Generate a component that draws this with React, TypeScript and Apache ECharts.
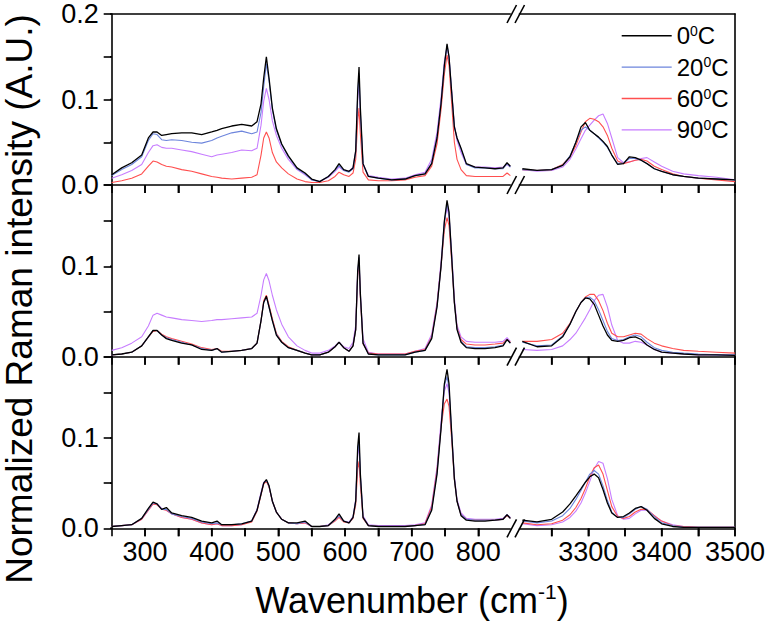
import React, { useEffect, useRef } from "react";
import * as echarts from "echarts";

// ---------- shared wavenumber grids ----------
const leftWavenumbers = [
  250, 265, 280, 295, 305, 312, 318, 325, 332, 340,
  355, 370, 385, 400, 408, 415, 430, 445, 460, 468,
  474, 478, 482, 486, 491, 497, 505, 515, 528, 540,
  550, 562, 575, 585, 591, 598, 606, 612, 616, 619,
  621, 623, 627, 635, 650, 670, 690, 705, 720, 730,
  738, 744, 749, 753, 756, 760, 764, 768, 774, 782,
  795, 810, 825, 837, 843, 848,
];
const rightWavenumbers = [
  3210, 3230, 3250, 3265, 3275, 3283, 3290, 3296, 3302, 3308,
  3314, 3320, 3326, 3332, 3340, 3348, 3356, 3364, 3372, 3380,
  3390, 3400, 3415, 3430, 3450, 3475, 3500,
];

// ---------- temperatures / legend ----------
const temperatures = ["0", "20", "60", "90"];
const lineColors = ["#000000", "#6d85dc", "#ff4f4f", "#c77dff"];

// ---------- axis values ----------
const leftTickValues = [300, 350, 400, 450, 500, 550, 600, 650, 700, 750, 800];
const rightTickValues = [3250, 3300, 3350, 3400, 3450, 3500];
const leftLabelValues = [300, 400, 500, 600, 700, 800];
const rightLabelValues = [3300, 3400, 3500];
const yTickValuesTop = [0, 0.05, 0.1, 0.15, 0.2];
const yTickValuesLower = [0, 0.05, 0.1, 0.15];
const yLabelValues = [0, 0.1, 0.2];
const yMaxByPanel = [0.2, 0.19, 0.19];

// ---------- TOP panel, low-wavenumber part ----------
const topLeft0 = [
  0.012, 0.020, 0.026, 0.035, 0.055, 0.062, 0.062, 0.058, 0.059, 0.060,
  0.061, 0.061, 0.059, 0.062, 0.064, 0.066, 0.069, 0.071, 0.069, 0.074,
  0.095, 0.125, 0.150, 0.125, 0.090, 0.066, 0.048, 0.034, 0.020, 0.014,
  0.007, 0.004, 0.010, 0.018, 0.025, 0.018, 0.016, 0.020, 0.040, 0.110,
  0.138, 0.090, 0.025, 0.010, 0.008, 0.006, 0.007, 0.011, 0.013, 0.025,
  0.055, 0.095, 0.140, 0.165, 0.150, 0.108, 0.068, 0.055, 0.043, 0.025,
  0.021, 0.020, 0.019, 0.020, 0.026, 0.022,
];
const topLeft20 = [
  0.011, 0.018, 0.024, 0.033, 0.052, 0.060, 0.059, 0.053, 0.052, 0.053,
  0.052, 0.050, 0.049, 0.052, 0.055, 0.057, 0.061, 0.063, 0.060, 0.062,
  0.085, 0.115, 0.142, 0.122, 0.088, 0.064, 0.047, 0.033, 0.019, 0.013,
  0.006, 0.004, 0.010, 0.017, 0.023, 0.017, 0.015, 0.019, 0.038, 0.105,
  0.130, 0.085, 0.024, 0.010, 0.008, 0.006, 0.007, 0.011, 0.013, 0.026,
  0.056, 0.096, 0.140, 0.163, 0.150, 0.108, 0.068, 0.055, 0.042, 0.024,
  0.020, 0.020, 0.019, 0.019, 0.025, 0.021,
];
const topLeft60 = [
  0.003, 0.005, 0.008, 0.013, 0.022, 0.028, 0.027, 0.024, 0.022, 0.021,
  0.018, 0.016, 0.013, 0.010, 0.009, 0.008, 0.007, 0.008, 0.009, 0.012,
  0.035, 0.055, 0.062, 0.055, 0.038, 0.027, 0.020, 0.013, 0.007, 0.004,
  0.003, 0.003, 0.005, 0.010, 0.015, 0.012, 0.010, 0.014, 0.030, 0.075,
  0.090, 0.060, 0.015, 0.006, 0.005, 0.005, 0.006, 0.009, 0.011, 0.022,
  0.048, 0.088, 0.130, 0.152, 0.140, 0.095, 0.050, 0.030, 0.018, 0.011,
  0.010, 0.010, 0.010, 0.010, 0.014, 0.011,
];
const topLeft90 = [
  0.008, 0.012, 0.017, 0.024, 0.038, 0.046, 0.047, 0.044, 0.043, 0.043,
  0.041, 0.039, 0.036, 0.033, 0.035, 0.036, 0.038, 0.041, 0.040, 0.043,
  0.070, 0.098, 0.113, 0.100, 0.075, 0.058, 0.043, 0.030, 0.018, 0.012,
  0.006, 0.004, 0.009, 0.016, 0.021, 0.017, 0.016, 0.021, 0.040, 0.100,
  0.120, 0.080, 0.025, 0.011, 0.009, 0.007, 0.008, 0.012, 0.015, 0.030,
  0.062, 0.102, 0.145, 0.162, 0.148, 0.110, 0.070, 0.052, 0.038, 0.024,
  0.021, 0.021, 0.020, 0.021, 0.024, 0.021,
];

// ---------- MIDDLE panel, low-wavenumber part ----------
const midLeft0 = [
  0.002, 0.003, 0.005, 0.012, 0.022, 0.029, 0.029, 0.024, 0.020, 0.018,
  0.015, 0.013, 0.008, 0.007, 0.009, 0.005, 0.006, 0.007, 0.009, 0.015,
  0.040, 0.060, 0.067, 0.055, 0.040, 0.024, 0.016, 0.010, 0.007, 0.004,
  0.002, 0.002, 0.005, 0.011, 0.016, 0.010, 0.006, 0.012, 0.030, 0.095,
  0.113, 0.070, 0.015, 0.003, 0.002, 0.002, 0.002, 0.005, 0.007, 0.020,
  0.055, 0.100, 0.150, 0.173, 0.160, 0.110, 0.060, 0.030, 0.016, 0.010,
  0.009, 0.009, 0.010, 0.012, 0.019, 0.015,
];
const midLeft20 = [
  0.002, 0.003, 0.005, 0.012, 0.022, 0.029, 0.029, 0.024, 0.021, 0.019,
  0.016, 0.013, 0.009, 0.007, 0.009, 0.005, 0.006, 0.007, 0.009, 0.015,
  0.040, 0.060, 0.066, 0.055, 0.040, 0.025, 0.016, 0.010, 0.007, 0.004,
  0.002, 0.002, 0.005, 0.011, 0.016, 0.010, 0.006, 0.012, 0.030, 0.092,
  0.110, 0.068, 0.015, 0.003, 0.002, 0.002, 0.002, 0.005, 0.007, 0.021,
  0.056, 0.100, 0.148, 0.170, 0.158, 0.110, 0.060, 0.031, 0.017, 0.011,
  0.010, 0.010, 0.011, 0.013, 0.019, 0.015,
];
const midLeft60 = [
  0.002, 0.003, 0.005, 0.012, 0.022, 0.028, 0.029, 0.025, 0.022, 0.020,
  0.017, 0.014, 0.010, 0.008, 0.009, 0.006, 0.006, 0.007, 0.009, 0.015,
  0.040, 0.062, 0.068, 0.057, 0.042, 0.026, 0.017, 0.011, 0.007, 0.004,
  0.002, 0.002, 0.005, 0.011, 0.016, 0.010, 0.006, 0.012, 0.030, 0.090,
  0.105, 0.065, 0.014, 0.004, 0.003, 0.003, 0.003, 0.006, 0.008, 0.022,
  0.058, 0.100, 0.140, 0.154, 0.145, 0.105, 0.060, 0.032, 0.019, 0.014,
  0.013, 0.013, 0.014, 0.015, 0.019, 0.016,
];
const midLeft90 = [
  0.007, 0.010, 0.015, 0.022, 0.034, 0.046, 0.048, 0.046, 0.044, 0.043,
  0.041, 0.040, 0.039, 0.040, 0.041, 0.041, 0.042, 0.043, 0.044, 0.048,
  0.068, 0.085, 0.092, 0.084, 0.068, 0.052, 0.036, 0.022, 0.012, 0.007,
  0.004, 0.004, 0.007, 0.012, 0.016, 0.011, 0.009, 0.016, 0.035, 0.095,
  0.105, 0.070, 0.020, 0.005, 0.003, 0.003, 0.003, 0.006, 0.009, 0.025,
  0.060, 0.105, 0.150, 0.165, 0.155, 0.115, 0.065, 0.035, 0.022, 0.017,
  0.016, 0.016, 0.016, 0.017, 0.021, 0.017,
];

// ---------- BOTTOM panel, low-wavenumber part ----------
const botLeft0 = [
  0.002, 0.003, 0.004, 0.011, 0.022, 0.029, 0.027, 0.021, 0.023, 0.017,
  0.014, 0.012, 0.008, 0.006, 0.008, 0.004, 0.004, 0.005, 0.008, 0.020,
  0.038, 0.050, 0.054, 0.047, 0.030, 0.018, 0.010, 0.006, 0.006, 0.008,
  0.002, 0.002, 0.003, 0.010, 0.016, 0.008, 0.006, 0.012, 0.030, 0.090,
  0.106, 0.060, 0.012, 0.003, 0.002, 0.002, 0.002, 0.003, 0.004, 0.020,
  0.060, 0.110, 0.160, 0.176, 0.160, 0.105, 0.055, 0.030, 0.014, 0.009,
  0.008, 0.008, 0.009, 0.010, 0.015, 0.011,
];
const botLeft20 = [
  0.002, 0.003, 0.004, 0.011, 0.021, 0.028, 0.027, 0.021, 0.021, 0.016,
  0.013, 0.011, 0.007, 0.005, 0.006, 0.004, 0.004, 0.005, 0.008, 0.020,
  0.038, 0.050, 0.053, 0.047, 0.030, 0.018, 0.010, 0.006, 0.005, 0.007,
  0.002, 0.002, 0.003, 0.009, 0.014, 0.008, 0.006, 0.012, 0.030, 0.085,
  0.097, 0.058, 0.012, 0.003, 0.002, 0.002, 0.002, 0.003, 0.004, 0.021,
  0.062, 0.112, 0.158, 0.168, 0.155, 0.104, 0.055, 0.030, 0.015, 0.010,
  0.009, 0.009, 0.009, 0.010, 0.015, 0.011,
];
const botLeft60 = [
  0.002, 0.003, 0.004, 0.010, 0.020, 0.027, 0.026, 0.021, 0.020, 0.016,
  0.012, 0.010, 0.006, 0.004, 0.005, 0.003, 0.003, 0.004, 0.007, 0.019,
  0.037, 0.049, 0.052, 0.046, 0.030, 0.018, 0.010, 0.006, 0.005, 0.006,
  0.002, 0.002, 0.003, 0.008, 0.012, 0.007, 0.006, 0.011, 0.026, 0.066,
  0.074, 0.048, 0.011, 0.003, 0.002, 0.002, 0.002, 0.003, 0.005, 0.024,
  0.065, 0.112, 0.138, 0.143, 0.135, 0.098, 0.054, 0.030, 0.015, 0.010,
  0.009, 0.009, 0.009, 0.010, 0.014, 0.011,
];
const botLeft90 = [
  0.002, 0.003, 0.004, 0.010, 0.020, 0.027, 0.027, 0.022, 0.020, 0.016,
  0.012, 0.010, 0.006, 0.004, 0.005, 0.003, 0.003, 0.004, 0.008, 0.021,
  0.040, 0.051, 0.053, 0.046, 0.030, 0.018, 0.010, 0.006, 0.005, 0.006,
  0.002, 0.002, 0.004, 0.009, 0.013, 0.008, 0.007, 0.013, 0.032, 0.082,
  0.090, 0.058, 0.014, 0.004, 0.003, 0.003, 0.003, 0.004, 0.006, 0.026,
  0.068, 0.118, 0.152, 0.160, 0.150, 0.105, 0.058, 0.032, 0.017, 0.011,
  0.010, 0.010, 0.010, 0.011, 0.015, 0.012,
];

// ---------- high-wavenumber (O-H) part ----------
const topRight0 = [
  0.019, 0.017, 0.018, 0.023, 0.033, 0.050, 0.068, 0.073, 0.064, 0.060,
  0.056, 0.051, 0.045, 0.035, 0.024, 0.025, 0.033, 0.032, 0.029, 0.025,
  0.019, 0.016, 0.012, 0.010, 0.008, 0.007, 0.006,
];
const topRight20 = [
  0.018, 0.017, 0.018, 0.023, 0.034, 0.050, 0.064, 0.068, 0.064, 0.060,
  0.055, 0.050, 0.044, 0.035, 0.025, 0.026, 0.031, 0.031, 0.029, 0.025,
  0.019, 0.016, 0.012, 0.010, 0.008, 0.007, 0.006,
];
const topRight60 = [
  0.018, 0.017, 0.018, 0.024, 0.033, 0.046, 0.062, 0.074, 0.078, 0.077,
  0.074, 0.068, 0.058, 0.043, 0.028, 0.025, 0.027, 0.029, 0.030, 0.028,
  0.022, 0.018, 0.013, 0.010, 0.008, 0.006, 0.004,
];
const topRight90 = [
  0.018, 0.016, 0.017, 0.021, 0.030, 0.042, 0.054, 0.064, 0.070, 0.076,
  0.081, 0.083, 0.072, 0.055, 0.032, 0.026, 0.027, 0.029, 0.031, 0.032,
  0.027, 0.022, 0.016, 0.013, 0.011, 0.009, 0.006,
];
const midRight0 = [
  0.017, 0.011, 0.012, 0.022, 0.036, 0.050, 0.060, 0.065, 0.064, 0.058,
  0.046, 0.034, 0.024, 0.018, 0.017, 0.018, 0.021, 0.022, 0.019, 0.013,
  0.008, 0.005, 0.004, 0.003, 0.002, 0.002, 0.0015,
];
const midRight20 = [
  0.016, 0.012, 0.013, 0.023, 0.036, 0.050, 0.060, 0.065, 0.066, 0.062,
  0.052, 0.040, 0.028, 0.020, 0.018, 0.019, 0.022, 0.024, 0.022, 0.016,
  0.010, 0.007, 0.005, 0.004, 0.003, 0.002, 0.002,
];
const midRight60 = [
  0.017, 0.017, 0.019, 0.026, 0.037, 0.050, 0.060, 0.066, 0.069, 0.069,
  0.062, 0.051, 0.037, 0.026, 0.022, 0.022, 0.024, 0.026, 0.025, 0.020,
  0.015, 0.012, 0.009, 0.007, 0.006, 0.005, 0.004,
];
const midRight90 = [
  0.008, 0.007, 0.008, 0.012, 0.019, 0.026, 0.035, 0.043, 0.052, 0.062,
  0.068, 0.069, 0.055, 0.035, 0.018, 0.015, 0.015, 0.017, 0.016, 0.013,
  0.008, 0.005, 0.004, 0.003, 0.002, 0.002, 0.0015,
];
const botRight0 = [
  0.009, 0.007, 0.010, 0.018, 0.027, 0.036, 0.044, 0.051, 0.057, 0.060,
  0.056, 0.043, 0.028, 0.017, 0.012, 0.013, 0.017, 0.022, 0.024, 0.020,
  0.011, 0.005, 0.002, 0.001, 0.001, 0.001, 0.001,
];
const botRight20 = [
  0.008, 0.006, 0.008, 0.014, 0.022, 0.032, 0.042, 0.051, 0.060, 0.064,
  0.060, 0.047, 0.031, 0.018, 0.012, 0.012, 0.016, 0.021, 0.024, 0.021,
  0.013, 0.006, 0.003, 0.001, 0.001, 0.001, 0.001,
];
const botRight60 = [
  0.006, 0.004, 0.005, 0.009, 0.015, 0.023, 0.033, 0.044, 0.057, 0.067,
  0.070, 0.060, 0.042, 0.024, 0.013, 0.011, 0.013, 0.018, 0.021, 0.021,
  0.014, 0.008, 0.003, 0.002, 0.001, 0.001, 0.001,
];
const botRight90 = [
  0.005, 0.003, 0.004, 0.007, 0.012, 0.019, 0.028, 0.039, 0.052, 0.066,
  0.074, 0.072, 0.055, 0.032, 0.014, 0.010, 0.011, 0.016, 0.020, 0.020,
  0.014, 0.008, 0.004, 0.002, 0.001, 0.001, 0.001,
];

const FONT = "'Liberation Sans', Arial, Helvetica, sans-serif";

const isIn = (list: number[], v: number) => list.some((u) => Math.abs(u - v) < 1e-6);

export default function App() {
  const ref = useRef<HTMLDivElement>(null);

  useEffect(() => {
    document.body.style.margin = "0";
    if (!ref.current) return;
    const chart = echarts.init(ref.current, undefined, { renderer: "svg" });

    const leftSets = [
      [topLeft0, topLeft20, topLeft60, topLeft90],
      [midLeft0, midLeft20, midLeft60, midLeft90],
      [botLeft0, botLeft20, botLeft60, botLeft90],
    ];
    const rightSets = [
      [topRight0, topRight20, topRight60, topRight90],
      [midRight0, midRight20, midRight60, midRight90],
      [botRight0, botRight20, botRight60, botRight90],
    ];

    const panelTops = [14, 185, 356.7];
    const panelHeights = [171, 171.7, 171.6];
    const gridLefts = [111.7, 515];
    const gridWidths = [400, 220];
    const xMins = [250, 3200];
    const xMaxs = [850, 3500];
    const TICK = 8;
    const TW = 1.6;

    const grid: any[] = [];
    const xAxis: any[] = [];
    const yAxis: any[] = [];
    const series: any[] = [];

    const tickSeries = (gi: number, pts: number[][]) => ({
      type: "line",
      name: "tick",
      xAxisIndex: gi,
      yAxisIndex: gi,
      symbol: "none",
      showSymbol: false,
      clip: false,
      silent: true,
      z: 10,
      data: pts,
      lineStyle: { color: "#000", width: TW },
      itemStyle: { color: "#000" },
    });

    for (let p = 0; p < 3; p++) {
      for (let side = 0; side < 2; side++) {
        const gi = p * 2 + side;
        const labelList = side ? rightLabelValues : leftLabelValues;
        grid.push({
          left: gridLefts[side],
          width: gridWidths[side],
          top: panelTops[p],
          height: panelHeights[p],
        });
        xAxis.push({
          type: "value",
          gridIndex: gi,
          min: xMins[side],
          max: xMaxs[side],
          interval: 50,
          position: "bottom",
          axisLine: { show: true, onZero: false, lineStyle: { color: "#000", width: TW } },
          axisTick: { show: true, inside: false, length: TICK, lineStyle: { color: "#000", width: TW } },
          axisLabel: {
            show: p === 2,
            showMinLabel: true,
            showMaxLabel: true,
            hideOverlap: false,
            formatter: (v: number) => (isIn(labelList, v) ? String(v) : ""),
            fontSize: 27,
            fontFamily: FONT,
            color: "#000",
            margin: 10,
          },
          splitLine: { show: false },
        });
        yAxis.push({
          type: "value",
          gridIndex: gi,
          min: 0,
          max: yMaxByPanel[p],
          interval: 0.05,
          position: side ? "right" : "left",
          axisLine: { show: true, onZero: false, lineStyle: { color: "#000", width: TW } },
          axisTick: { show: side === 0, inside: false, length: TICK, lineStyle: { color: "#000", width: TW } },
          axisLabel: {
            show: side === 0,
            showMinLabel: true,
            showMaxLabel: true,
            formatter: (v: number) => (isIn(yLabelValues, v) ? v.toFixed(1) : ""),
            fontSize: 27,
            fontFamily: FONT,
            color: "#000",
            margin: 13,
          },
          splitLine: { show: false },
        });
        const xs = side ? rightWavenumbers : leftWavenumbers;
        const sets = side ? rightSets[p] : leftSets[p];
        for (let t = 3; t >= 0; t--) {
          series.push({
            type: "line",
            name: temperatures[t],
            xAxisIndex: gi,
            yAxisIndex: gi,
            symbol: "none",
            showSymbol: false,
            data: xs.map((x, i) => [x, sets[t][i]]),
            lineStyle: { color: lineColors[t], width: t === 0 ? 1.3 : 1.1 },
            itemStyle: { color: lineColors[t] },
          });
        }
        // tick marks as short line series, drawn through the axes' scales (outside the plot, clip off)
        const dy = (TICK / panelHeights[p]) * yMaxByPanel[p];
        (side ? rightTickValues : leftTickValues).forEach((v) => {
          series.push(tickSeries(gi, [[v, 0], [v, -dy]]));
        });
        if (side === 0) {
          const dx = (TICK / gridWidths[0]) * (xMaxs[0] - xMins[0]);
          (p === 0 ? yTickValuesTop : yTickValuesLower).forEach((v) => {
            series.push(tickSeries(gi, [[xMins[0], v], [xMins[0] - dx, v]]));
          });
        }
      }
    }
    // top frame of upper panel
    for (let side = 0; side < 2; side++) {
      xAxis.push({
        type: "value",
        gridIndex: side,
        min: xMins[side],
        max: xMaxs[side],
        interval: 50,
        position: "top",
        axisLine: { show: true, onZero: false, lineStyle: { color: "#000", width: TW } },
        axisTick: { show: false },
        axisLabel: { show: false },
        splitLine: { show: false },
      });
    }

    const graphic: any[] = [];
    const breakYs = [14, 185, 356.7, 528.3];
    breakYs.forEach((yy) => {
      graphic.push({
        type: "rect",
        shape: { x: 510.8, y: yy - 2, width: 8, height: 12 },
        style: { fill: "#fff" },
        z: 99,
      });
      [0, 8].forEach((dx) => {
        graphic.push({
          type: "line",
          shape: { x1: 507 + dx, y1: yy + 9, x2: 516.5 + dx, y2: yy - 9 },
          style: { stroke: "#000", lineWidth: TW },
          z: 100,
        });
      });
    });
    graphic.push({
      type: "text",
      x: 412,
      y: 600,
      style: {
        text: "{a|Wavenumber (cm}{s|-1}{a|)}",
        align: "center",
        verticalAlign: "middle",
        fill: "#000",
        rich: {
          a: { fontSize: 36, fontFamily: FONT, lineHeight: 38, fill: "#000" },
          s: { fontSize: 21, fontFamily: FONT, lineHeight: 21, verticalAlign: "top", fill: "#000" },
        },
      },
    });
    graphic.push({
      type: "text",
      x: 19,
      y: 299,
      rotation: Math.PI / 2,
      style: {
        text: "Normalized Raman intensity (A.U.)",
        align: "center",
        verticalAlign: "middle",
        fontSize: 37,
        lineHeight: 32,
        fontFamily: FONT,
        fill: "#000",
      },
    });

    chart.setOption({
      animation: false,
      backgroundColor: "#fff",
      grid,
      xAxis,
      yAxis,
      series,
      graphic,
      legend: {
        data: temperatures,
        orient: "vertical",
        left: 621.7,
        top: 23.7,
        padding: 0,
        icon: "rect",
        itemWidth: 50,
        itemHeight: 1.4,
        itemGap: 7.4,
        formatter: (n: string) => `{n|${n}}{s|0}{n|C}`,
        textStyle: {
          color: "#000",
          fontFamily: FONT,
          rich: {
            n: { fontSize: 24, lineHeight: 24, fontFamily: FONT, color: "#000" },
            s: { fontSize: 14, lineHeight: 14, verticalAlign: "top", fontFamily: FONT, color: "#000" },
          },
        },
      },
    });

    return () => chart.dispose();
  }, []);

  return <div ref={ref} style={{ width: 768, height: 621 }} />;
}
